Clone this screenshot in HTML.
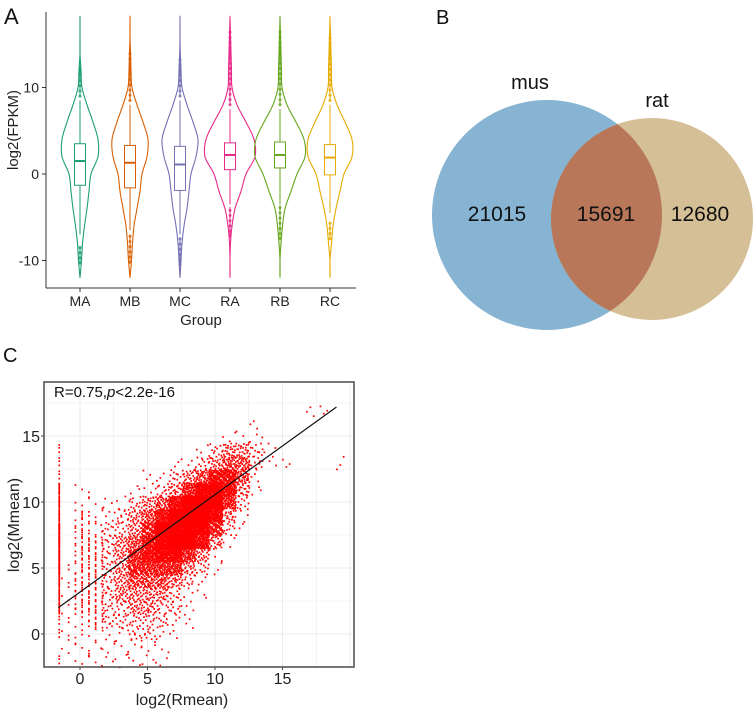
<!DOCTYPE html>
<html><head><meta charset="utf-8">
<style>
body{margin:0;background:#fff;}
svg{display:block;font-family:"Liberation Sans",Arial,sans-serif;}
</style></head>
<body>
<svg id="fig" width="755" height="709" viewBox="0 0 755 709">
  <text x="4" y="24" font-size="22" fill="#111">A</text>
  <text x="436" y="24" font-size="20" fill="#111">B</text>
  <text x="3" y="362" font-size="20" fill="#111">C</text>
  <g id="pa"></g>
  <g id="pb">
    <circle cx="547" cy="215" r="115" fill="#86b4d2"/>
    <circle cx="652" cy="219" r="101" fill="#d4bf96"/>
    <clipPath id="clipMus"><circle cx="547" cy="215" r="115"/></clipPath>
    <circle cx="652" cy="219" r="101" fill="#b87759" clip-path="url(#clipMus)"/>
    <text x="530" y="89" font-size="20" text-anchor="middle" fill="#111">mus</text>
    <text x="657" y="107" font-size="20" text-anchor="middle" fill="#111">rat</text>
    <text x="497" y="221" font-size="21" text-anchor="middle" fill="#111">21015</text>
    <text x="606" y="221" font-size="21" text-anchor="middle" fill="#111">15691</text>
    <text x="700" y="221" font-size="21" text-anchor="middle" fill="#111">12680</text>
  </g>
  <g id="pc"></g>
</svg>
<script>
// ---------- Panel A data ----------
const groups = ["MA","MB","MC","RA","RB","RC"];
const groupColors = ["#1b9e77","#d95f02","#7570b3","#e7298a","#66a61e","#e6ab02"];
const densityLevels = [-12,-10,-8,-6,-4,-2,0,2,4,6,8,10,12,14,16,18];
const densMA = [0,1.5,2.5,4.5,7,9,11,18,18,13,7,2,1,0,0,0];
const densMB = [0,1.5,2.5,4,7,10,12,17,18,13,7,2,1,0.5,0,0];
const densMC = [0,1,2,4,7,9,11,16,18,13,7,2,1,0.3,0,0];
const densRA = [0,0,0.5,2,5,11,16,25,24,16,7,2,1.5,1,0.5,0];
const densRB = [0,0,1,2.5,5,11,17,25,24,16,7,2,1.5,1,0.5,0];
const densRC = [0,0,1.5,3,6,10,14,22,22,15,7,2,1.5,1,0.5,0];
const q1 = [-1.3,-1.6,-1.9,0.5,0.7,-0.1];
const medians = [1.5,1.3,1.1,2.2,2.2,1.9];
const q3 = [3.5,3.3,3.2,3.6,3.7,3.4];
const whiskerLo = [-7,-6.5,-7,-3.5,-3.5,-4.5];
const whiskerHi = [8.5,8,8.5,7.5,7.5,8];
const outLoMin = [-10.3,-10.2,-10.5,-7.2,-7.5,-7.5];
const outLoMax = [-8.5,-7,-7.3,-3.8,-3.6,-5.5];
const outHiMin = [9,8.5,9,8,8,8.5];
const outHiMax = [12.5,14,13.2,16.5,16.5,16.2];
const yTicksA = [-10,0,10];

// ---------- Panel C data ----------
const xTicksC = [0,5,10,15];
const yTicksC = [0,5,10,15];
const gridXStart = -2;
const gridYTop = 17;
// density grid rows (y from 17 down to -2), columns x from -2 to 19
const densityGrid = [
[0,0,0,0,0,0,0,0,0,0,0,0,0,0,0,0,0,0,0,1,1,0],
[0,0,0,0,0,0,0,0,0,0,0,0,0,0,0,1,0,0,0,0,0,0],
[0,0,0,0,0,0,0,0,0,0,0,0,0,1,1,1,0,0,0,0,0,0],
[1,0,0,0,0,0,0,0,0,0,0,1,2,3,3,2,1,0,0,0,0,0],
[1,0,0,0,0,0,0,0,0,1,1,2,3,4,4,2,1,1,0,0,0,1],
[1,0,0,0,0,0,0,1,1,2,3,4,6,6,4,1,0,0,0,0,0,0],
[2,0,1,0,0,0,1,1,2,3,5,7,8,6,3,1,0,0,0,0,0,0],
[2,0,1,1,1,1,2,3,4,6,9,9,9,5,2,0,0,0,0,0,0,0],
[2,0,2,1,1,2,3,4,6,9,9,9,7,3,1,0,0,0,0,0,0,0],
[3,0,2,1,2,2,3,5,8,9,9,8,5,2,1,0,0,0,0,0,0,0],
[3,0,2,2,2,3,4,6,8,9,8,6,3,1,0,0,0,0,0,0,0,0],
[3,0,2,2,2,3,5,6,7,7,5,3,1,0,0,0,0,0,0,0,0,0],
[3,1,2,2,2,3,5,5,5,5,3,2,1,0,0,0,0,0,0,0,0,0],
[2,1,2,2,2,3,4,4,4,3,2,1,0,0,0,0,0,0,0,0,0,0],
[2,1,2,2,2,3,3,3,3,2,1,1,0,0,0,0,0,0,0,0,0,0],
[2,1,2,2,2,2,3,3,2,2,1,0,0,0,0,0,0,0,0,0,0,0],
[1,1,1,2,2,2,2,2,2,1,1,0,0,0,0,0,0,0,0,0,0,0],
[1,1,1,1,1,1,2,2,1,1,0,0,0,0,0,0,0,0,0,0,0,0],
[0,1,1,1,1,1,1,1,1,0,0,0,0,0,0,0,0,0,0,0,0,0],
[1,0,1,1,1,1,1,1,1,0,0,0,0,0,0,0,0,0,0,0,0,0]];
const fitStart = [-1.6,2.0];
const fitEnd = [19,17.2];

const NS="http://www.w3.org/2000/svg";
function mk(tag, attrs, parent){const e=document.createElementNS(NS,tag);for(const k in attrs)e.setAttribute(k,attrs[k]);parent.appendChild(e);return e;}

// ---------- Panel A ----------
(function(){
const g=document.getElementById('pa');
const yA=v=>174-v*8.65;
const xA=i=>80+i*50;
let e;
e=mk('line',{x1:46,y1:12,x2:46,y2:288,stroke:'#333','stroke-width':1},g);


e=mk('line',{x1:46,y1:288,x2:356,y2:288,stroke:'#333','stroke-width':1},g);


yTicksA.forEach(t=>{
  const tk=mk('line',{x1:42,x2:46,y1:yA(t),y2:yA(t),stroke:'#333'},g);
  
  
  const tl=mk('text',{x:39,y:yA(t)+5,'font-size':14,'text-anchor':'end',fill:'#222'},g);
  tl.textContent=t;
  
  
});
const dens=[densMA,densMB,densMC,densRA,densRB,densRC];
groups.forEach((name,i)=>{
  const cx=xA(i), col=groupColors[i], d=dens[i];
  const pts=densityLevels.map((lv,k)=>[cx+d[k],yA(lv)]);
  const left=densityLevels.map((lv,k)=>[cx-d[k],yA(lv)]).reverse();
  const all=pts.concat(left);
  function cr(p){let s=`M${p[0][0]},${p[0][1]}`;for(let k=0;k<p.length-1;k++){const p0=p[Math.max(k-1,0)],p1=p[k],p2=p[k+1],p3=p[Math.min(k+2,p.length-1)];s+=` C${p1[0]+(p2[0]-p0[0])/6},${p1[1]+(p2[1]-p0[1])/6} ${p2[0]-(p3[0]-p1[0])/6},${p2[1]-(p3[1]-p1[1])/6} ${p2[0]},${p2[1]}`;}return s+'Z';}
  const v=mk('path',{d:cr(all),fill:'none',stroke:col,'stroke-width':1.1},g);
  
  
  const w=mk('line',{x1:cx,x2:cx,y1:yA(whiskerLo[i]),y2:yA(whiskerHi[i]),stroke:col,'stroke-width':1},g);
  
  
  [[outLoMin[i],outLoMax[i]],[outHiMin[i],outHiMax[i]]].forEach(r=>{
    const ln=mk('line',{x1:cx,x2:cx,y1:yA(r[0]),y2:yA(r[1]),stroke:col,'stroke-width':1},g);
    
    
    for(let vv=r[0];vv<=r[1]+1e-6;vv+=0.6){
      const c=mk('circle',{cx:cx,cy:yA(vv),r:1.5,fill:col,'fill-opacity':0.85},g);
      
      
    }
  });
  const b=mk('rect',{x:cx-5.5,y:yA(q3[i]),width:11,height:yA(q1[i])-yA(q3[i]),fill:'#fff',stroke:col,'stroke-width':1},g);
  
  
  const m=mk('line',{x1:cx-5.5,x2:cx+5.5,y1:yA(medians[i]),y2:yA(medians[i]),stroke:col,'stroke-width':2},g);
  
  
  const tk=mk('line',{x1:cx,x2:cx,y1:288,y2:292,stroke:'#333'},g);
  
  
  const tl=mk('text',{x:cx,y:306,'font-size':14,'text-anchor':'middle',fill:'#222'},g);
  tl.textContent=name;
  
  
});
e=mk('text',{x:201,y:325,'font-size':15,'text-anchor':'middle',fill:'#222'},g);
e.textContent='Group';


e=mk('text',{x:0,y:0,'font-size':15,'text-anchor':'middle',fill:'#222',transform:'translate(18,130) rotate(-90)'},g);
e.textContent='log2(FPKM)';


})();

// ---------- Panel C ----------
(function(){
const g=document.getElementById('pc');
const xC=v=>80+v*13.5;
const yC=v=>634-v*13.2;
const L=44,R=354,T=382,B=667;
let e;
e=mk('rect',{x:L,y:T,width:R-L,height:B-T,fill:'#fff'},g);


for(let v=-2.5;v<=20;v+=2.5){
  const gl=mk('line',{x1:xC(v),x2:xC(v),y1:T,y2:B,stroke:'#ebebeb','stroke-width':v%5===0?1:0.6},g);
  
  
}
for(let v=-2.5;v<=20;v+=2.5){
  if(yC(v)<T) continue;
  const gl=mk('line',{x1:L,x2:R,y1:yC(v),y2:yC(v),stroke:'#ebebeb','stroke-width':v%5===0?1:0.6},g);
  
  
}
const cw=13.5,ch=13.2;
function halton(i,b){let f=1,r=0;while(i>0){f/=b;r+=f*(i%b);i=Math.floor(i/b);}return r;}
const pg=mk('g',{fill:'#ff0000'},g);


densityGrid.forEach((row,ri)=>{
  const yv=gridYTop-ri;
  row.forEach((c,ci)=>{
    if(!c) return;
    const xv=gridXStart+ci;
    const n=Math.round(c*c*2.7);
    const x0=xC(xv-0.5), y0=yC(yv+0.5);
    for(let k=1;k<=n;k++){
      let px=x0+halton(k+ri*7,2)*cw;
      if(xv===-2) px=xC(-1.6);
      else if(xv<=1) px=xC(Math.round((xv-0.5+halton(k+ri*7,2))*2)/2+0.1);
      const p=mk('rect',{x:px.toFixed(1),y:(y0+halton(k+ci*5,3)*ch).toFixed(1),width:1.7,height:1.7},pg);
      
      
    }
  });
});
e=mk('line',{x1:xC(fitStart[0]),y1:yC(fitStart[1]),x2:xC(fitEnd[0]),y2:yC(fitEnd[1]),stroke:'#111','stroke-width':1.2},g);


e=mk('rect',{x:L,y:T,width:R-L,height:B-T,fill:'none',stroke:'#555','stroke-width':1.6},g);


xTicksC.forEach(t=>{
  const tk=mk('line',{x1:xC(t),x2:xC(t),y1:B,y2:B+3,stroke:'#444'},g);
  
  
  const tl=mk('text',{x:xC(t),y:684,'font-size':16,'text-anchor':'middle',fill:'#222'},g);
  tl.textContent=t;
  
  
});
yTicksC.forEach(t=>{
  const tk=mk('line',{x1:L-3,x2:L,y1:yC(t),y2:yC(t),stroke:'#444'},g);
  
  
  const tl=mk('text',{x:40,y:yC(t)+6,'font-size':16,'text-anchor':'end',fill:'#222'},g);
  tl.textContent=t;
  
  
});
e=mk('text',{x:182,y:705,'font-size':16,'text-anchor':'middle',fill:'#222'},g);
e.textContent='log2(Rmean)';


e=mk('text',{x:0,y:0,'font-size':16,'text-anchor':'middle',fill:'#222',transform:'translate(19,525) rotate(-90)'},g);
e.textContent='log2(Mmean)';


e=mk('text',{x:54,y:397,'font-size':15,fill:'#111'},g);
e.innerHTML='R=0.75,<tspan font-style="italic">p</tspan>&lt;2.2e-16';


})();
</script>
</body></html>
